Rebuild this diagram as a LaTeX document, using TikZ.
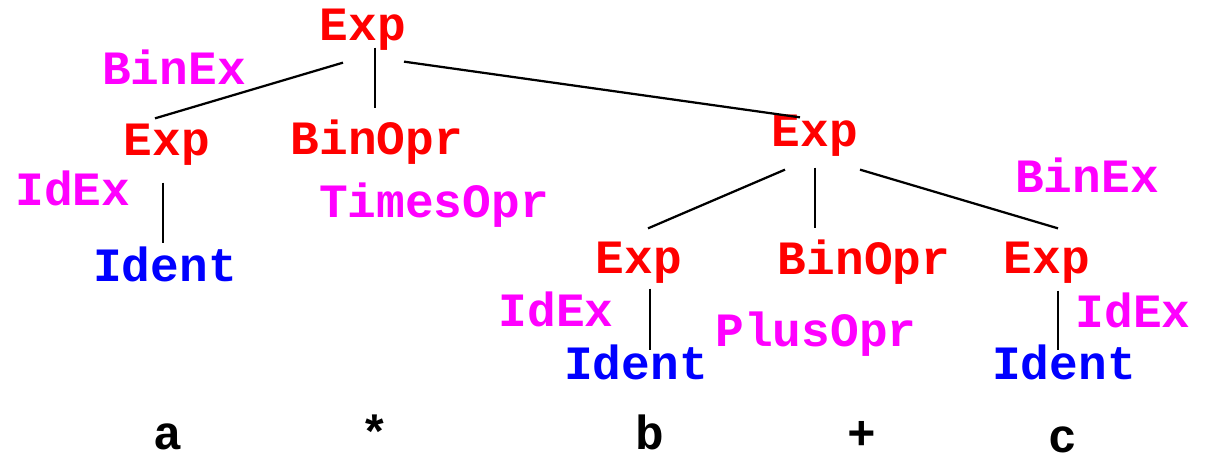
\documentclass[tikz,border=0pt]{standalone}
\usepackage{fontspec}
\usepackage{xcolor}
\newfontfamily\codefont{Liberation Mono}
\definecolor{conpink}{RGB}{255,0,255}
\definecolor{ntred}{RGB}{255,0,0}
\definecolor{tblue}{RGB}{0,0,255}

\tikzset{
  tok/.style={inner sep=0pt, text height=19pt, text depth=0pt,
    font=\codefont\bfseries\fontsize{34}{40}\selectfont},
  nonterm/.style={tok, text=ntred},
  constr/.style={tok, text=conpink},
  term/.style={tok, text=tblue},
  leaf/.style={tok, anchor=base, text=black},
  edge/.style={line width=1.6pt}
}

\begin{document}
\begin{tikzpicture}[x=0.025cm, y=-0.025cm]
        \useasboundingbox (0,0) rectangle (1207,453);
        % 语法树的结点
        \node[nonterm] (top) at (363,27) {Exp};
        \node[constr] (topc) at (174,71) {BinEx};
        \node[nonterm] (lexp) at (167,142) {Exp};
        \node[nonterm] (opr1) at (377,141) {BinOpr};
        \node[constr] (lexpc) at (73,192) {IdEx};
        \node[constr] (opr1c) at (434,204) {TimesOpr};
        \node[term] (id1) at (165,268) {Ident};
        \node[nonterm] (rexp) at (815,133) {Exp};
        \node[constr] (rexpc) at (1087,179) {BinEx};
        \node[nonterm] (bexp) at (639,260) {Exp};
        \node[nonterm] (opr2) at (864,261) {BinOpr};
        \node[nonterm] (cexp) at (1047,260) {Exp};
        \node[constr] (bexpc) at (556,313) {IdEx};
        \node[constr] (opr2c) at (816,333) {PlusOpr};
        \node[constr] (cexpc) at (1133,314) {IdEx};
        \node[term] (id2) at (636,366) {Ident};
        \node[term] (id3) at (1064,366) {Ident};
        % 输入串
        \node[leaf] (a) at (168,449) {a};
        \node[leaf] (times) at (375,449) {*};
        \node[leaf] (b) at (650,449) {b};
        \node[leaf] (plus) at (862,449) {+};
        \node[leaf] (c) at (1063,452) {c};
        % 连线
        \draw[edge] ([shift={(-20,22)}]top.south) -- ([shift={(-12,-10)}]lexp.north);
        \draw[edge] ([shift={(12,7)}]top.south) -- ([shift={(-2,-19)}]opr1.north);
        \draw[edge] ([shift={(41,21)}]top.south) -- ([shift={(-15,-2)}]rexp.north);
        \draw[edge] ([shift={(-4,27)}]lexp.south) -- ([shift={(-2,-11)}]id1.north);
        \draw[edge] ([shift={(-30,23)}]rexp.south) -- ([shift={(9,-18)}]bexp.north);
        \draw[edge] ([shift={(0,21)}]rexp.south) -- ([shift={(-49,-19)}]opr2.north);
        \draw[edge] ([shift={(45,23)}]rexp.south) -- ([shift={(11,-18)}]cexp.north);
        \draw[edge] ([shift={(11,15)}]bexp.south) -- ([shift={(14,-2)}]id2.north);
        \draw[edge] ([shift={(11,17)}]cexp.south) -- ([shift={(-6,-2)}]id3.north);
    \end{tikzpicture}
\end{document}
